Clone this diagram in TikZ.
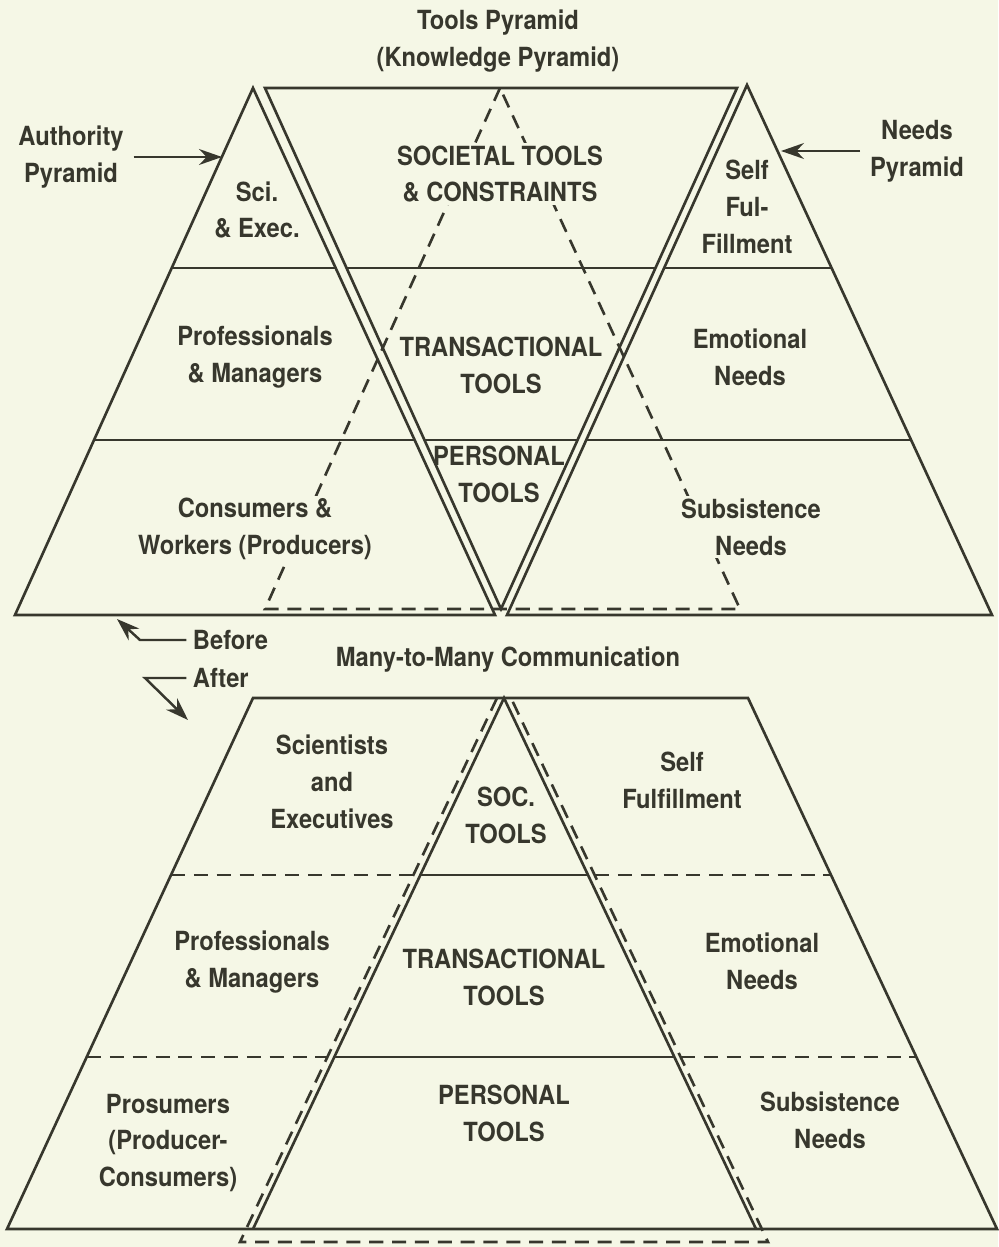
\documentclass[tikz,border=0pt]{standalone}
\usepackage{fontspec}
\setmainfont{TeX Gyre Heros}[FakeStretch=0.9]
\usetikzlibrary{calc,arrows.meta}

\definecolor{paper}{RGB}{245,247,230}
\definecolor{ink}{RGB}{55,55,45}

\tikzset{
  edge/.style={draw=ink, line width=1.5pt},
  dashedge/.style={draw=ink, line width=1.5pt, dash pattern=on 8pt off 5pt},
  lab/.style={text=ink, align=center, inner sep=1.5pt, font=\fontsize{15}{21}\selectfont\bfseries},
  masklab/.style={lab, fill=paper},
  ptr/.style={draw=ink, line width=1.4pt, -{Stealth[length=13pt,width=9pt]}}
}

\begin{document}
\begin{tikzpicture}[x=0.02cm,y=-0.02cm]
  \fill[paper] (0,0) rectangle (998,1247);
  \useasboundingbox (0,0) rectangle (998,1247);

  \coordinate (a1) at (15,615);
  \coordinate (a2) at (253,88);
  \coordinate (a3) at (495,615);
  \coordinate (t1) at (265,88);
  \coordinate (t2) at (737,88);
  \coordinate (t3) at (501,609);
  \coordinate (n1) at (507,615);
  \coordinate (n2) at (747,85);
  \coordinate (n3) at (992,615);

  \draw[edge] (a1) -- (a2) -- (a3) -- cycle;
  \draw[edge] (t1) -- (t2) -- (t3) -- cycle;
  \draw[edge] (n1) -- (n2) -- (n3) -- cycle;
  \draw[dashedge] (500,88) -- (265,609) -- (740,609) -- cycle;

  \draw[edge] (172,268) -- (336,268);
  \draw[edge] (347,268) -- (655,268);
  \draw[edge] (664,268) -- (832,268);
  \draw[edge] (94,440) -- (415,440);
  \draw[edge] (424,440) -- (578,440);
  \draw[edge] (586,440) -- (911,440);

  \coordinate (b1) at (253,698);
  \coordinate (b2) at (748,698);
  \coordinate (b3) at (997,1229);
  \coordinate (b4) at (7,1229);
  \coordinate (s1) at (504,698);
  \coordinate (s2) at (253,1229);
  \coordinate (s3) at (756,1229);

  \draw[edge] (b1) -- (b2) -- (b3) -- (b4) -- cycle;
  \draw[edge] (s2) -- (s1) -- (s3);
  \draw[dashedge] (497,698) -- (240,1242) -- (768,1242) -- (511,698);

  \draw[dashedge] (171,875) -- (413,875);
  \draw[edge] (420,875) -- (588,875);
  \draw[dashedge] (595,875) -- (831,875);
  \draw[dashedge] (87,1057) -- (327,1057);
  \draw[edge] (334,1057) -- (674,1057);
  \draw[dashedge] (681,1057) -- (916,1057);

  \node[lab] (toolsttl) at (498,41) {Tools Pyramid\\(Knowledge Pyramid)};
  \node[lab] (authttl) at (71,157) {Authority\\Pyramid};
  \node[lab] (needsttl) at (917,151) {Needs\\Pyramid};
  \node[lab] (sciexec) at (257,210) {Sci.\\\& Exec.};
  \node[masklab] (soctools) at (500,174) {SOCIETAL TOOLS\\\& CONSTRAINTS};
  \node[lab] (selfful) at (747,207) {Self\\Ful-\\Fillment};
  \node[lab] (profman) at (255,357) {Professionals\\\& Managers};
  \node[lab] (transtop) at (501,365) {TRANSACTIONAL\\TOOLS};
  \node[lab] (emotop) at (750,357) {Emotional\\Needs};
  \node[masklab] (consw) at (255,529) {Consumers \&\\Workers (Producers)};
  \node[lab] (perstop) at (499,474) {PERSONAL\\TOOLS};
  \node[masklab] (substop) at (751,527) {Subsistence\\Needs};

  \node[lab, anchor=west] (before) at (190,640) {Before};
  \node[lab, anchor=west] (after) at (190,678) {After};
  \node[lab] (m2m) at (508,660) {Many-to-Many Communication};

  \node[lab] (sciexb) at (332,782) {Scientists\\and\\Executives};
  \node[lab] (socb) at (506,815) {SOC.\\TOOLS};
  \node[lab] (selfb) at (682,780) {Self\\Fulfillment};
  \node[lab] (profb) at (252,962) {Professionals\\\& Managers};
  \node[lab] (transb) at (504,977) {TRANSACTIONAL\\TOOLS};
  \node[lab] (emob) at (762,961) {Emotional\\Needs};
  \node[lab] (prosb) at (168,1143) {Prosumers\\(Producer-\\Consumers)};
  \node[lab] (persb) at (504,1113) {PERSONAL\\TOOLS};
  \node[lab] (subsb) at (830,1120) {Subsistence\\Needs};

  \coordinate (authtip) at (222,157);
  \coordinate (needstip) at (781,151);
  \coordinate (befbend) at (140,640);
  \coordinate (beftip) at (117,619);
  \coordinate (aftbend) at (145,678);
  \coordinate (afttip) at (188,720);

  \draw[ptr, shorten <=4pt] (authttl.east) -- (authtip);
  \draw[ptr, shorten <=4pt] (needsttl.west) -- (needstip);
  \draw[ptr, shorten <=2pt] (before.west) -- (befbend) -- (beftip);
  \draw[ptr, shorten <=2pt] (after.west) -- (aftbend) -- (afttip);
\end{tikzpicture}
\end{document}
